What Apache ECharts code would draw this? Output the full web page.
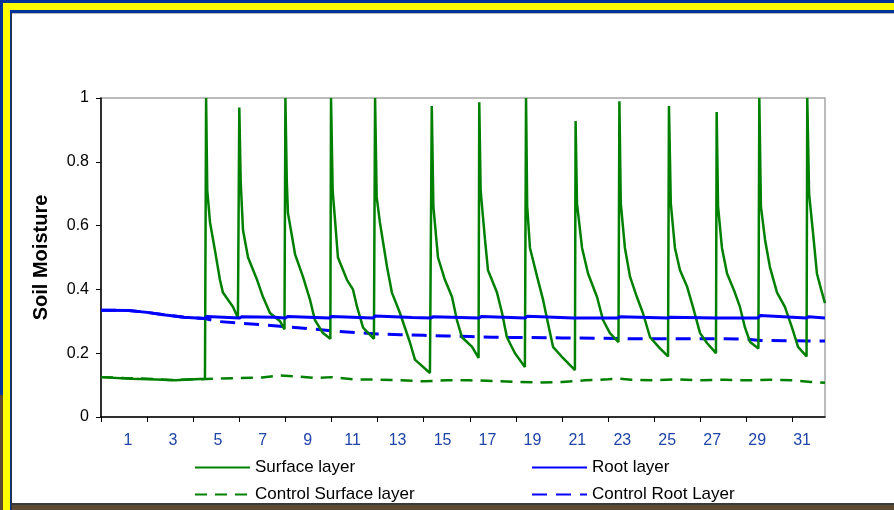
<!DOCTYPE html>
<html>
<head>
<meta charset="utf-8">
<script src="https://cdn.jsdelivr.net/npm/echarts@6/dist/echarts.min.js"></script>
<style>
  html, body { margin: 0; padding: 0; background: #fff; }
  #chart { width: 894px; height: 510px; }
</style>
</head>
<body>
<div id="chart"></div>
<script>
// [day, soil moisture]
const surfaceLayer = [
  [0, 0.125], [1.26, 0.12], [2.13, 0.118], [3.21, 0.115], [4.51, 0.12],
  [4.56, 1.0], [4.61, 0.71], [4.73, 0.61], [4.95, 0.52], [5.16, 0.43], [5.29, 0.39], [5.73, 0.345], [5.94, 0.31],
  [6.00, 0.97], [6.06, 0.74], [6.16, 0.586], [6.38, 0.50], [6.77, 0.43], [7.03, 0.376], [7.33, 0.326], [7.77, 0.30], [7.96, 0.275],
  [8.00, 1.0], [8.06, 0.74], [8.11, 0.64], [8.42, 0.51], [8.76, 0.44], [9.07, 0.367], [9.28, 0.304], [9.63, 0.263], [9.95, 0.245],
  [9.98, 1.0], [10.05, 0.71], [10.15, 0.62], [10.28, 0.50], [10.67, 0.43], [10.93, 0.40], [11.11, 0.345], [11.37, 0.28], [11.84, 0.245],
  [11.89, 1.0], [11.96, 0.69], [12.10, 0.61], [12.41, 0.47], [12.62, 0.39], [12.97, 0.326], [13.41, 0.232], [13.62, 0.18], [14.27, 0.138],
  [14.35, 0.975], [14.42, 0.66], [14.62, 0.50], [14.92, 0.43], [15.23, 0.376], [15.44, 0.304], [15.66, 0.25], [16.10, 0.22], [16.38, 0.185],
  [16.41, 0.987], [16.47, 0.71], [16.66, 0.555], [16.79, 0.46], [17.18, 0.39], [17.40, 0.326], [17.61, 0.25], [17.96, 0.20], [18.39, 0.157],
  [18.44, 1.0], [18.49, 0.66], [18.61, 0.53], [18.92, 0.44], [19.18, 0.367], [19.39, 0.295], [19.61, 0.22], [20.04, 0.185], [20.56, 0.147],
  [20.59, 0.928], [20.65, 0.67], [20.87, 0.53], [21.13, 0.45], [21.52, 0.376], [21.78, 0.304], [22.08, 0.263], [22.45, 0.235],
  [22.49, 0.99], [22.55, 0.67], [22.73, 0.53], [22.95, 0.44], [23.25, 0.376], [23.51, 0.326], [23.82, 0.25], [24.25, 0.215], [24.60, 0.19],
  [24.64, 0.975], [24.72, 0.67], [24.90, 0.53], [25.12, 0.46], [25.42, 0.41], [25.68, 0.345], [25.99, 0.263], [26.29, 0.232], [26.68, 0.20],
  [26.71, 0.956], [26.77, 0.66], [26.94, 0.53], [27.16, 0.45], [27.50, 0.39], [27.72, 0.345], [27.94, 0.28], [28.16, 0.235], [28.52, 0.215],
  [28.56, 1.0], [28.63, 0.66], [28.81, 0.555], [29.02, 0.47], [29.33, 0.39], [29.67, 0.345], [29.98, 0.28], [30.24, 0.22], [30.61, 0.19],
  [30.64, 1.0], [30.72, 0.70], [30.89, 0.577], [31.06, 0.45], [31.24, 0.40], [31.41, 0.357]
];
const rootLayer = [
  [0, 0.335], [1.2, 0.334], [2.0, 0.328], [2.8, 0.32], [3.6, 0.313], [4.5, 0.309], [4.6, 0.315], [5.3, 0.313],
  [6.0, 0.31], [6.1, 0.314], [7.5, 0.313], [8.0, 0.31], [8.1, 0.315], [9.9, 0.31], [10.0, 0.315], [11.8, 0.31],
  [11.9, 0.317], [13.5, 0.312], [14.3, 0.31], [14.4, 0.314], [16.4, 0.31], [16.5, 0.315], [18.4, 0.31], [18.5, 0.316],
  [20.5, 0.31], [22.4, 0.31], [22.5, 0.314], [24.6, 0.31], [24.7, 0.313], [26.7, 0.31], [28.5, 0.31], [28.6, 0.318],
  [30.6, 0.31], [30.7, 0.314], [31.41, 0.31]
];
const controlSurface = [
  [0, 0.125], [1, 0.122], [2, 0.12], [3, 0.116], [4, 0.118], [5, 0.12], [6, 0.122], [7, 0.124], [7.8, 0.13],
  [8.5, 0.127], [9.3, 0.122], [10, 0.125], [11, 0.118], [12, 0.117], [13, 0.115], [14, 0.112], [15, 0.115],
  [16, 0.115], [17, 0.113], [18, 0.11], [19, 0.108], [20, 0.11], [21, 0.115], [22, 0.118], [22.5, 0.12],
  [23, 0.117], [24, 0.115], [25, 0.118], [26, 0.115], [27, 0.117], [28, 0.115], [29, 0.117], [30, 0.115],
  [30.8, 0.11], [31.41, 0.107]
];
const controlRoot = [
  [0, 0.335], [1.2, 0.334], [2.0, 0.328], [2.8, 0.32], [3.6, 0.313], [4.5, 0.309], [5.0, 0.300], [6.0, 0.294],
  [7.0, 0.289], [8.0, 0.283], [9.0, 0.277], [10.0, 0.27], [11.0, 0.265], [12.0, 0.26], [13.0, 0.258], [14.0, 0.256],
  [15.0, 0.254], [16.0, 0.252], [17.0, 0.25], [18.5, 0.249], [20.0, 0.248], [21.5, 0.247], [23.0, 0.245],
  [25.0, 0.245], [27.0, 0.245], [28.0, 0.244], [28.6, 0.24], [31.41, 0.238]
];
const tickDays = [0, 2, 4, 6, 8, 10, 12, 14, 16, 18, 20, 22, 24, 26, 28, 30];
const dayLabels = [1, 3, 5, 7, 9, 11, 13, 15, 17, 19, 21, 23, 25, 27, 29, 31];

const chart = echarts.init(document.getElementById('chart'));

const option = {
  backgroundColor: '#fff',
  animation: false,
  textStyle: { fontFamily: 'Liberation Sans, Arial, sans-serif' },
  grid: {
    left: 101, top: 98, right: 69, bottom: 93,
    show: true, borderColor: '#a6a6a6', borderWidth: 1.5
  },
  xAxis: [
    {
      // data axis: ticks every 2 days
      type: 'value', min: 0, max: 31.41, position: 'bottom',
      axisLine: { lineStyle: { color: '#000', width: 1.5 } },
      axisTick: { show: true, length: 5, customValues: tickDays, lineStyle: { color: '#000' } },
      axisLabel: { show: false },
      splitLine: { show: false }
    },
    {
      // label axis, labels sit a little off the ticks like in the original
      type: 'value', min: -0.2, max: 32.02, position: 'bottom',
      axisLine: { show: false },
      axisTick: { show: false },
      axisLabel: { customValues: dayLabels, color: '#1f44a8', fontSize: 16, margin: 16 },
      splitLine: { show: false }
    }
  ],
  yAxis: {
    type: 'value', min: 0, max: 1, interval: 0.2,
    name: 'Soil Moisture', nameLocation: 'middle', nameGap: 50,
    nameTextStyle: { fontSize: 20, fontWeight: 'bold', color: '#000' },
    axisLine: { show: true, lineStyle: { color: '#000', width: 1.5 } },
    axisTick: { show: true, length: 5, lineStyle: { color: '#000' } },
    axisLabel: { color: '#000', fontSize: 16, margin: 12 },
    splitLine: { show: false }
  },
  legend: [
    {
      orient: 'vertical', left: 194, top: 459, padding: 0, itemWidth: 55, itemHeight: 12, itemGap: 10,
      itemStyle: { opacity: 0 },
      textStyle: { fontSize: 17, color: '#000' },
      data: ['Surface layer', 'Control Surface layer']
    },
    {
      orient: 'vertical', left: 531, top: 459, padding: 0, itemWidth: 55, itemHeight: 12, itemGap: 10,
      itemStyle: { opacity: 0 },
      textStyle: { fontSize: 17, color: '#000' },
      data: ['Root layer', 'Control Root Layer']
    }
  ],
  graphic: [
    // slide frame
    { type: 'rect', shape: { x: 0, y: 0, width: 894, height: 3 }, style: { fill: '#003399' }, z: 50 },
    { type: 'rect', shape: { x: 0, y: 3, width: 894, height: 7 }, style: { fill: '#ffff00' }, z: 50 },
    { type: 'rect', shape: { x: 0, y: 10, width: 894, height: 3 }, style: { fill: '#003399' }, z: 50 },
    { type: 'rect', shape: { x: 10, y: 13, width: 884, height: 1 }, style: { fill: '#b8b8b8' }, z: 50 },
    { type: 'rect', shape: { x: 0, y: 0, width: 3, height: 395 }, style: { fill: '#003399' }, z: 51 },
    { type: 'rect', shape: { x: 0, y: 395, width: 3, height: 115 }, style: { fill: '#5c4a33' }, z: 51 },
    { type: 'rect', shape: { x: 3, y: 3, width: 7, height: 507 }, style: { fill: '#ffff00' }, z: 51 },
    { type: 'rect', shape: { x: 10, y: 10, width: 1, height: 500 }, style: { fill: '#003399' }, z: 51 },
    { type: 'rect', shape: { x: 11, y: 13, width: 1, height: 497 }, style: { fill: '#333' }, z: 51 },
    { type: 'rect', shape: { x: 10, y: 503, width: 884, height: 2 }, style: { fill: '#3a3a3a' }, z: 50 },
    { type: 'rect', shape: { x: 10, y: 505, width: 884, height: 5 }, style: { fill: '#5c4a33' }, z: 50 },
    // the first legend row is clipped at the top in the original
    { type: 'rect', shape: { x: 251, y: 451, width: 480, height: 8 }, style: { fill: '#fff' }, z: 60 }
  ],
  series: [
    {
      name: 'Control Surface layer', type: 'line', data: controlSurface, symbol: 'none',
      lineStyle: { color: '#008000', width: 2.5, type: [12, 8] }, itemStyle: { color: '#008000' }
    },
    {
      name: 'Control Root Layer', type: 'line', data: controlRoot, symbol: 'none',
      lineStyle: { color: '#0000ff', width: 3, type: [15, 9] }, itemStyle: { color: '#0000ff' }
    },
    {
      name: 'Surface layer', type: 'line', data: surfaceLayer, symbol: 'none',
      lineStyle: { color: '#008000', width: 2.5 }, itemStyle: { color: '#008000' }
    },
    {
      name: 'Root layer', type: 'line', data: rootLayer, symbol: 'none',
      lineStyle: { color: '#0000ff', width: 3 }, itemStyle: { color: '#0000ff' }
    }
  ]
};

chart.setOption(option);
</script>
</body>
</html>
